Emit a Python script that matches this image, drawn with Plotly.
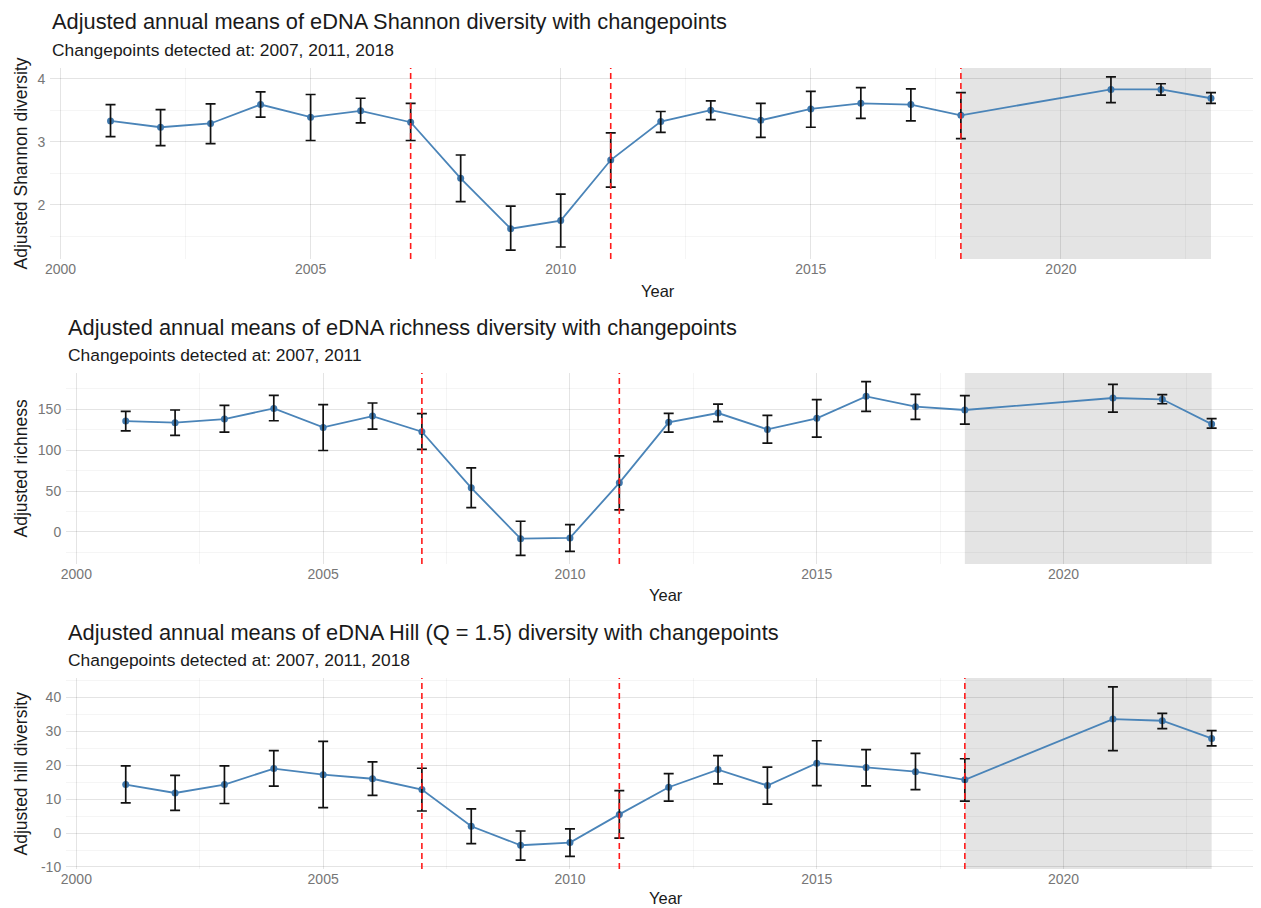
import plotly.graph_objects as go

# ---------------- data ----------------
years = [2001, 2002, 2003, 2004, 2005, 2006, 2007, 2008, 2009, 2010, 2011,
         2012, 2013, 2014, 2015, 2016, 2017, 2018, 2021, 2022, 2023]

shannon_mean = [3.33, 3.23, 3.29, 3.59, 3.39, 3.49, 3.31, 2.42, 1.62, 1.75, 2.71,
                3.32, 3.50, 3.34, 3.52, 3.61, 3.59, 3.42, 3.83, 3.83, 3.69]
shannon_low = [3.08, 2.94, 2.97, 3.39, 3.02, 3.30, 3.02, 2.05, 1.28, 1.33, 2.28,
               3.15, 3.35, 3.07, 3.23, 3.37, 3.33, 3.05, 3.62, 3.74, 3.61]
shannon_high = [3.59, 3.51, 3.60, 3.79, 3.75, 3.69, 3.61, 2.79, 1.98, 2.17, 3.14,
                3.48, 3.65, 3.61, 3.80, 3.86, 3.84, 3.78, 4.03, 3.92, 3.78]

richness_mean = [135.7, 133.7, 138.1, 151.2, 127.9, 141.8, 122.6, 54.0, -8.2, -7.3, 60.1,
                 134.1, 145.5, 125.5, 139.0, 165.9, 153.3, 149.2, 163.9, 162.3, 132.0]
richness_low = [123.8, 118.1, 122.2, 136.1, 99.7, 125.9, 101.0, 29.9, -28.6, -23.7, 27.0,
                122.2, 134.9, 108.7, 116.1, 147.5, 137.7, 132.0, 146.7, 156.9, 127.1]
richness_high = [147.5, 149.2, 154.9, 167.2, 155.7, 157.8, 144.7, 78.5, 13.1, 9.0, 93.2,
                 145.1, 156.5, 142.6, 161.9, 183.9, 168.4, 166.8, 180.6, 168.0, 138.6]

hill_mean = [14.3, 11.8, 14.3, 19.0, 17.2, 16.0, 12.8, 2.0, -3.6, -2.8, 5.5,
             13.5, 18.7, 14.0, 20.6, 19.3, 18.1, 15.7, 33.6, 33.1, 27.9]
hill_low = [8.9, 6.7, 8.7, 13.8, 7.5, 11.1, 6.5, -3.1, -8.0, -6.9, -1.5,
            9.4, 14.5, 8.5, 14.0, 13.9, 12.8, 9.4, 24.3, 30.8, 25.7]
hill_high = [19.8, 17.0, 19.8, 24.3, 27.0, 21.0, 19.1, 7.1, 0.6, 1.2, 12.5,
             17.5, 22.8, 19.4, 27.2, 24.6, 23.5, 21.9, 43.1, 35.3, 30.2]

shannon_cp = [2007, 2011, 2018]
richness_cp = [2007, 2011]
hill_cp = [2007, 2011, 2018]
shade_span = [2018, 2023]

x_tick_vals = [2000, 2005, 2010, 2015, 2020]
x_tick_text = ["2000", "2005", "2010", "2015", "2020"]
shannon_ticks = [2, 3, 4]
shannon_tick_text = ["2", "3", "4"]
richness_ticks = [0, 50, 100, 150]
richness_tick_text = ["0", "50", "100", "150"]
hill_ticks = [-10, 0, 10, 20, 30, 40]
hill_tick_text = ["-10", "0", "10", "20", "30", "40"]

titles = ["Adjusted annual means of eDNA Shannon diversity with changepoints",
          "Adjusted annual means of eDNA richness diversity with changepoints",
          "Adjusted annual means of eDNA Hill (Q = 1.5) diversity with changepoints"]
subtitles = ["Changepoints detected at: 2007, 2011, 2018",
             "Changepoints detected at: 2007, 2011",
             "Changepoints detected at: 2007, 2011, 2018"]
ytitles = ["Adjusted Shannon diversity", "Adjusted richness", "Adjusted hill diversity"]

# ---------------- layout geometry (window pixels) ----------------
OFF = 8                      # default page margin of the html body
FW, FH = 1261 - OFF, 908 - OFF


def px_x(x):
    return (x - OFF) / FW


def px_y(y):
    return 1 - (y - OFF) / FH


FONT = "Liberation Sans, Arial, sans-serif"
panels = [
    dict(mean=shannon_mean, low=shannon_low, high=shannon_high, cp=shannon_cp,
         top=68, bottom=259, left=50, yrange=[1.14, 4.17], ydt=0.5,
         tv=shannon_ticks, tt=shannon_tick_text, title_y=21.7, sub_y=50, year_y=291),
    dict(mean=richness_mean, low=richness_low, high=richness_high, cp=richness_cp,
         top=373, bottom=564, left=66, yrange=[-39.2, 194.5], ydt=25,
         tv=richness_ticks, tt=richness_tick_text, title_y=327, sub_y=355, year_y=595),
    dict(mean=hill_mean, low=hill_low, high=hill_high, cp=hill_cp,
         top=678, bottom=869, left=66, yrange=[-10.6, 45.7], ydt=5,
         tv=hill_ticks, tt=hill_tick_text, title_y=632, sub_y=660, year_y=898),
]

fig = go.Figure()
shapes = []
annotations = []
layout_axes = {}

LINE_COL = "#4a84b8"
GRID = "rgba(0,0,0,0.065)"
MINOR_GRID = "rgba(0,0,0,0.04)"
TICK_COL = "#767676"

for i, p in enumerate(panels):
    n = i + 1
    xa = "x" if n == 1 else f"x{n}"
    ya = "y" if n == 1 else f"y{n}"
    xkey = "xaxis" if n == 1 else f"xaxis{n}"
    ykey = "yaxis" if n == 1 else f"yaxis{n}"

    err_plus = [h - m for h, m in zip(p["high"], p["mean"])]
    err_minus = [m - l for m, l in zip(p["mean"], p["low"])]

    fig.add_trace(go.Scatter(
        x=years, y=p["mean"], mode="lines+markers", xaxis=xa, yaxis=ya,
        line=dict(color=LINE_COL, width=1.8),
        marker=dict(color="#3f78ad", size=7),
        showlegend=False, hoverinfo="x+y"))
    fig.add_trace(go.Scatter(
        x=years, y=p["mean"], mode="markers", xaxis=xa, yaxis=ya,
        marker=dict(color="rgba(0,0,0,0)", size=1),
        error_y=dict(type="data", array=err_plus, arrayminus=err_minus,
                     color="#111111", thickness=1.7, width=5),
        showlegend=False, hoverinfo="skip"))

    # shaded recent period
    shapes.append(dict(type="rect", xref=xa, yref=f"{ya} domain",
                       x0=shade_span[0], x1=shade_span[1], y0=0, y1=1,
                       fillcolor="#E4E4E4", line=dict(width=0),
                       layer="below"))
    for c in p["cp"]:
        shapes.append(dict(type="line", xref=xa, yref=f"{ya} domain",
                           x0=c, x1=c, y0=0, y1=1,
                           line=dict(color="#ff1a1a", width=1.6, dash="6px,4px"),
                           layer="above"))

    ydom = [px_y(p["bottom"]), px_y(p["top"])]
    xdom = [px_x(p["left"]), 1]
    layout_axes[xkey] = dict(
        domain=xdom, anchor=ya, range=[1999.79, 2024.0],
        tickvals=x_tick_vals, ticktext=x_tick_text,
        showgrid=True, gridcolor=GRID, gridwidth=1.1,
        minor=dict(dtick=2.5, tick0=2000, showgrid=True, gridcolor=MINOR_GRID, gridwidth=0.7),
        zeroline=False, showline=False, ticks="", automargin=False,
        tickfont=dict(family=FONT, size=14, color=TICK_COL))
    layout_axes[ykey] = dict(
        domain=ydom, anchor=xa, range=p["yrange"],
        tickvals=p["tv"], ticktext=p["tt"],
        showgrid=True, gridcolor=GRID, gridwidth=1.1,
        minor=dict(dtick=p["ydt"], tick0=p["tv"][0] - p["ydt"], showgrid=True,
                   gridcolor=MINOR_GRID, gridwidth=0.7),
        zeroline=False, showline=False, ticks="outside", ticklen=1,
        tickcolor="rgba(0,0,0,0)", automargin=False,
        tickfont=dict(family=FONT, size=14, color=TICK_COL))

    # text
    annotations.append(dict(text=titles[i], xref="paper", yref="paper",
                            x=px_x(p["left"]), y=px_y(p["title_y"]),
                            xanchor="left", yanchor="middle", showarrow=False,
                            font=dict(family=FONT, size=21.8, color="#1a1a1a")))
    annotations.append(dict(text=subtitles[i], xref="paper", yref="paper",
                            x=px_x(p["left"]), y=px_y(p["sub_y"]),
                            xanchor="left", yanchor="middle", showarrow=False,
                            font=dict(family=FONT, size=17.4, color="#1a1a1a")))
    annotations.append(dict(text="Year", xref="paper", yref="paper",
                            x=px_x((p["left"] + 1265) / 2), y=px_y(p["year_y"]),
                            xanchor="center", yanchor="middle", showarrow=False,
                            font=dict(family=FONT, size=16.5, color="#1a1a1a")))
    annotations.append(dict(text=ytitles[i], xref="paper", yref="paper",
                            x=px_x(20), y=px_y((p["top"] + p["bottom"]) / 2),
                            xanchor="center", yanchor="middle", textangle=-90,
                            showarrow=False,
                            font=dict(family=FONT, size=17.5, color="#1a1a1a")))

fig.update_layout(
    width=FW, height=FH,
    margin=dict(l=0, r=0, t=0, b=0),
    paper_bgcolor="white", plot_bgcolor="white",
    shapes=shapes, annotations=annotations,
    showlegend=False,
    **layout_axes)

fig.write_html("out.html")
